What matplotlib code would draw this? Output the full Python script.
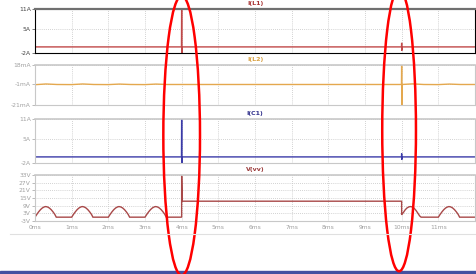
import matplotlib
matplotlib.use("Agg")
import matplotlib.pyplot as plt
from matplotlib.patches import Ellipse
import matplotlib.transforms as mtransforms

# ---------------- data (time in ms) ----------------
t_L1 = [0.0, 3.995, 4.000, 4.004, 4.010, 9.995, 10.000, 10.004, 10.010, 12.0]
i_L1 = [-0.2, -0.2, 13.0, -2.5, -0.2, -0.2, 1.0, -1.3, -0.2, -0.2]          # A

t_L2 = [0.0, 0.3, 0.6, 1.0, 1.3, 1.6, 2.0, 2.3, 2.6, 3.0, 3.3, 3.6, 4.0,
        9.995, 10.000, 10.003, 10.008, 10.3, 10.6, 11.0, 11.3, 11.6, 12.0]
i_L2 = [-1.2, -0.5, -1.0, -1.1, -0.5, -1.0, -1.1, -0.6, -1.0, -1.1, -0.6, -1.0, -1.0,
        -1.0, 22.0, -25.0, -1.0, -0.4, -1.0, -1.1, -0.6, -1.0, -1.0]          # mA

t_C1 = [0.0, 3.995, 4.000, 4.004, 4.010, 9.995, 10.000, 10.004, 10.010, 12.0]
i_C1 = [-0.2, -0.2, 13.0, -2.5, -0.2, -0.2, 0.8, -1.0, -0.2, -0.2]          # A

t_V = [0.00, 0.05, 0.10, 0.15, 0.20, 0.25, 0.29, 0.34, 0.39, 0.44, 0.49, 0.54, 0.58,
       1.00, 1.05, 1.10, 1.15, 1.20, 1.25, 1.29, 1.34, 1.39, 1.44, 1.49, 1.54, 1.58,
       2.00, 2.05, 2.10, 2.15, 2.20, 2.25, 2.29, 2.34, 2.39, 2.44, 2.49, 2.54, 2.58,
       3.00, 3.05, 3.10, 3.15, 3.20, 3.25, 3.29, 3.34, 3.39, 3.44, 3.49, 3.54, 3.58,
       3.999, 4.000, 4.015, 9.999,
       10.00, 10.05, 10.10, 10.15, 10.20, 10.24, 10.29, 10.34, 10.39, 10.44, 10.49, 10.53,
       11.00, 11.05, 11.10, 11.15, 11.20, 11.25, 11.29, 11.34, 11.39, 11.44, 11.49, 11.54, 11.58,
       12.0]
v_vv = [0.0, 2.2, 4.2, 5.9, 7.2, 8.0, 8.3, 8.0, 7.2, 5.9, 4.2, 2.2, 0.0,
        0.0, 2.2, 4.2, 5.9, 7.2, 8.0, 8.3, 8.0, 7.2, 5.9, 4.2, 2.2, 0.0,
        0.0, 2.2, 4.2, 5.9, 7.2, 8.0, 8.3, 8.0, 7.2, 5.9, 4.2, 2.2, 0.0,
        0.0, 2.2, 4.2, 5.9, 7.2, 8.0, 8.3, 8.0, 7.2, 5.9, 4.2, 2.2, 0.0,
        0.0, 32.5, 12.5, 12.5,
        1.8, 3.8, 5.9, 7.3, 8.1, 8.3, 8.0, 7.0, 5.3, 3.2, 1.0, 0.0,
        0.0, 2.2, 4.2, 5.9, 7.2, 8.0, 8.3, 8.0, 7.2, 5.9, 4.2, 2.2, 0.0,
        0.0]

x_ticks = [0, 1, 2, 3, 4, 5, 6, 7, 8, 9, 10, 11]
x_labels = ["0ms", "1ms", "2ms", "3ms", "4ms", "5ms", "6ms", "7ms", "8ms", "9ms", "10ms", "11ms"]

panels = [
    dict(name="I(L1)", t=t_L1, y=i_L1, color="#c04848", tcolor="#a83232",
         ylim=(-2, 11), ticks=[11, 5, -2], labels=["11A", "5A", "-2A"]),
    dict(name="I(L2)", t=t_L2, y=i_L2, color="#e4a84e", tcolor="#d8a040",
         ylim=(-21, 18), ticks=[18, -1, -21], labels=["18mA", "-1mA", "-21mA"]),
    dict(name="I(C1)", t=t_C1, y=i_C1, color="#3a3aa8", tcolor="#30308c",
         ylim=(-2, 11), ticks=[11, 5, -2], labels=["11A", "5A", "-2A"]),
    dict(name="V(vv)", t=t_V, y=v_vv, color="#a84848", tcolor="#9c3c3c",
         ylim=(-3, 33), ticks=[33, 27, 21, 15, 9, 3, -3],
         labels=["33V", "27V", "21V", "15V", "9V", "3V", "-3V"]),
]

W, H = 476, 274
# pixel rows (top, bottom) for each pane
rows = [(9, 53), (65, 105), (119, 163), (175, 221)]
left_px, right_px = 35, 475

fig = plt.figure(figsize=(W / 100, H / 100), dpi=100)
fig.patch.set_facecolor("white")

axes = []
for k, (p, (top, bot)) in enumerate(zip(panels, rows)):
    ax = fig.add_axes([left_px / W, 1 - bot / H, (right_px - left_px) / W, (bot - top) / H])
    ax.plot(p["t"], p["y"], color=p["color"], lw=1.0, solid_joinstyle="miter")
    ax.set_xlim(0, 12)
    ax.set_ylim(*p["ylim"])
    ax.set_yticks(p["ticks"])
    ax.set_yticklabels(p["labels"])
    ax.set_xticks(x_ticks)
    ax.grid(True, color="#c4c4c4", linestyle=(0, (1, 1.5)), lw=0.6)
    lab_color = "#404040" if k == 0 else "#a0a0a0"
    ax.tick_params(axis="y", labelsize=4.3, length=2.5, width=0.5, pad=0.5,
                   colors=lab_color)
    ax.tick_params(axis="x", labelsize=4.3, length=0, pad=3, colors="#a0a0a0")
    if k < 3:
        ax.set_xticklabels([])
    else:
        ax.set_xticklabels(x_labels)
    for s in ax.spines.values():
        s.set_color("#000000" if k == 0 else "#c8c8c8")
        s.set_linewidth(0.8)
    if k == 0:
        ax.spines["top"].set_color("#707070")
        ax.spines["top"].set_linewidth(1.6)
    else:
        ax.spines["top"].set_linewidth(1.2)
    fig.text((left_px + right_px) / 2 / W, 1 - (top - 5) / H, p["name"],
             ha="center", va="center", fontsize=4.5, fontweight="bold",
             color=p["tcolor"])
    axes.append(ax)

# separator line and bottom bar
fig.add_artist(plt.Line2D([10 / W, 1], [1 - 234 / H, 1 - 234 / H],
                          color="#e0e0e0", lw=0.8, transform=fig.transFigure))
fig.add_artist(plt.Rectangle((0, 0), 1, 3 / H, color="#4450a0",
                             transform=fig.transFigure))

# red hand-drawn ellipses around the 4 ms and 10 ms events
blend = mtransforms.blended_transform_factory(axes[-1].transData, fig.transFigure)
for cx, cy, w, h in [(4.0, 0.505, 1.0, 1.02), (9.93, 0.525, 0.92, 1.03)]:
    e = Ellipse((cx, cy), w, h, transform=blend, fill=False,
                edgecolor="#ff0000", lw=1.8, clip_on=False)
    fig.add_artist(e)

fig.savefig("out.png", dpi=100, facecolor="white")
